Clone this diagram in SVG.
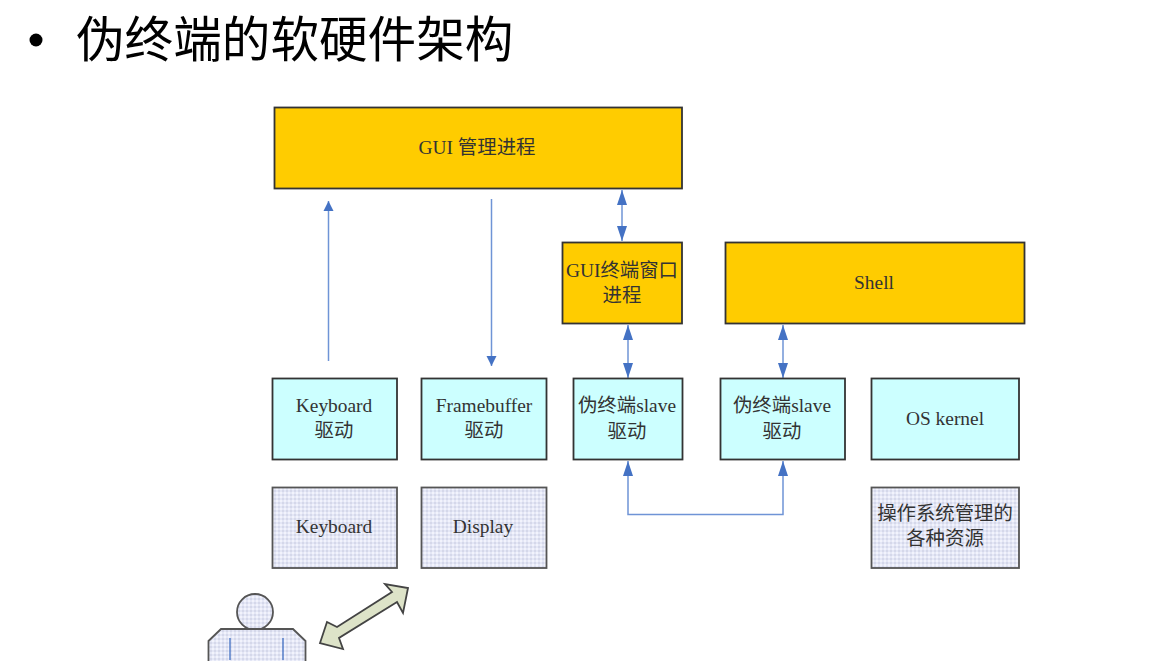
<svg xmlns="http://www.w3.org/2000/svg" width="1152" height="664" viewBox="0 0 1152 664">
<style>
.t{font-family:"Liberation Serif","Noto Sans CJK SC",serif;font-size:19.4px;fill:#333;text-anchor:middle}
.y{fill:#ffcc00;stroke:#333;stroke-width:1.8}
.c{fill:#ccffff;stroke:#333;stroke-width:1.8}
.d{fill:url(#dots);stroke:#555;stroke-width:1.8}
.l{fill:none;stroke:#6f94d6;stroke-width:1.5}
</style>
<defs>
<pattern id="dots" width="4" height="4" patternUnits="userSpaceOnUse">
<rect width="4" height="4" fill="#e4e7f6"/>
<rect width="2" height="2" fill="#f2f3fc"/>
<rect x="2" y="2" width="2" height="2" fill="#d5d8ea"/>
</pattern>
<marker id="a" viewBox="0 0 10 10" refX="10" refY="5" markerWidth="10" markerHeight="12" markerUnits="userSpaceOnUse" orient="auto-start-reverse">
<path d="M0 0L10 5L0 10Z" fill="#4472c4"/>
</marker>
<marker id="b" viewBox="0 0 15 10" refX="15" refY="5" markerWidth="15" markerHeight="11" markerUnits="userSpaceOnUse" orient="auto-start-reverse">
<path d="M0 0L15 5L0 10Z" fill="#4472c4"/>
</marker>
</defs>
<rect width="1152" height="664" fill="#fff"/>
<g id="title">
<circle cx="36" cy="40" r="6.500" fill="#000"/>
<text x="76" y="57" font-family="'Noto Sans CJK SC',sans-serif" font-size="48.600" fill="#000">伪终端的软硬件架构</text>
</g>
<g id="connectors">
<path class="l" d="M328.500 361V201" marker-end="url(#a)"/>
<path class="l" d="M491.500 199V366" marker-end="url(#a)"/>
<path class="l" d="M622 190V241" marker-start="url(#b)" marker-end="url(#b)"/>
<path class="l" d="M628 325V378" marker-start="url(#b)" marker-end="url(#b)"/>
<path class="l" d="M783 325V378" marker-start="url(#b)" marker-end="url(#b)"/>
<path class="l" d="M628 461V514.500H783V461" marker-start="url(#b)" marker-end="url(#b)"/>
</g>
<g id="gui-manager"><rect class="y" x="274.500" y="107.500" width="407.500" height="81"/><text class="t" x="477" y="154">GUI 管理进程</text></g>
<g id="gui-terminal"><rect class="y" x="562.500" y="242.500" width="119.500" height="81"/><text class="t" x="622" y="277">GUI终端窗口</text><text class="t" x="622" y="302">进程</text></g>
<g id="shell"><rect class="y" x="725.500" y="242.500" width="299" height="81"/><text class="t" x="874" y="289">Shell</text></g>
<g id="keyboard-driver"><rect class="c" x="272.500" y="378.500" width="124.500" height="81"/><text class="t" x="334" y="412">Keyboard</text><text class="t" x="334" y="437">驱动</text></g>
<g id="framebuffer-driver"><rect class="c" x="421.500" y="378.500" width="125" height="81"/><text class="t" x="484" y="412">Framebuffer</text><text class="t" x="484" y="437">驱动</text></g>
<g id="slave-driver-1"><rect class="c" x="573.500" y="378.500" width="109" height="81"/><text class="t" x="627" y="412">伪终端slave</text><text class="t" x="627" y="438">驱动</text></g>
<g id="slave-driver-2"><rect class="c" x="720.500" y="378.500" width="124.500" height="81"/><text class="t" x="782" y="412">伪终端slave</text><text class="t" x="782" y="438">驱动</text></g>
<g id="os-kernel"><rect class="c" x="871.500" y="378.500" width="147.500" height="81"/><text class="t" x="945" y="425">OS kernel</text></g>
<g id="keyboard"><rect class="d" x="272.500" y="487.500" width="124.500" height="80.500"/><text class="t" x="334" y="533">Keyboard</text></g>
<g id="display"><rect class="d" x="421.500" y="487.500" width="125" height="80.500"/><text class="t" x="483" y="533">Display</text></g>
<g id="resources"><rect class="d" x="871.500" y="487.500" width="147.500" height="80.500"/><text class="t" x="945" y="520">操作系统管理的</text><text class="t" x="945" y="545">各种资源</text></g>
<g id="user">
<circle class="d" cx="255" cy="612" r="18"/>
<path class="d" d="M208.500 661V641L221 629H293L305.500 641V661"/>
<path d="M230 638V660M283 638V660" fill="none" stroke="#4472c4" stroke-width="1.3"/>
</g>
<g id="link-arrow">
<path d="M408 588L403 613L397 602L339 638L343 649L320 643L327 622L337 627L392 592L385 584Z" fill="#dde3c8" stroke="#444" stroke-width="1.800"/>
</g>
</svg>
